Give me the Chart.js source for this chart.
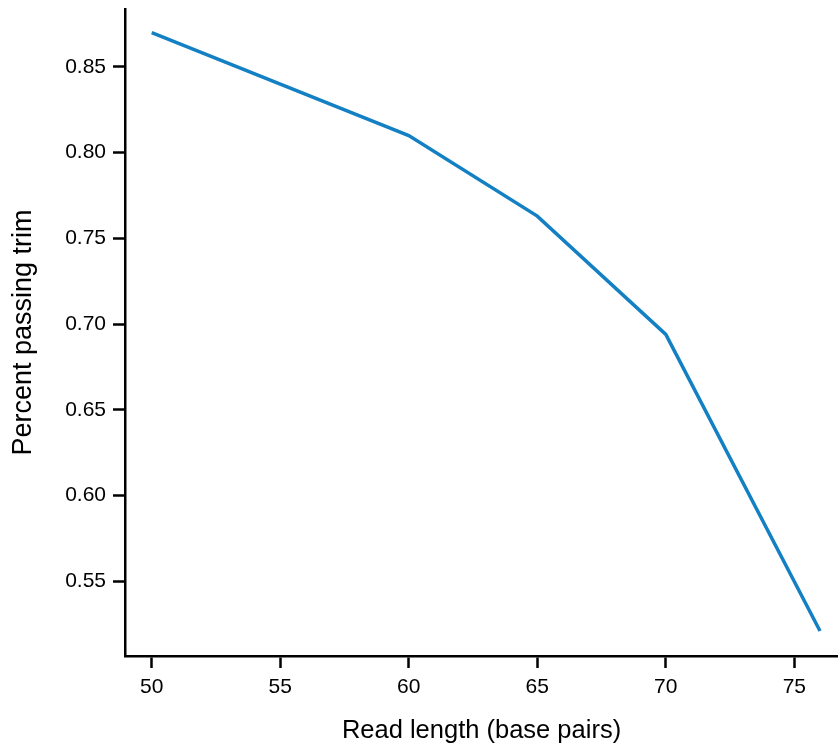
<!DOCTYPE html>
<html>
<head>
<meta charset="utf-8">
<script src="https://cdn.jsdelivr.net/npm/chart.js@4/dist/chart.umd.min.js"></script>
<style>
  html, body { margin: 0; padding: 0; background: #ffffff; }
  #wrap { width: 838px; height: 746px; position: relative; }
</style>
</head>
<body>
<div id="wrap"><canvas id="chart" width="838" height="746"></canvas></div>
<script>
// Read length (bp) vs. fraction of reads passing the trim step
const readLengths = [50, 60, 65, 70, 76];
const passingTrim = [0.870, 0.810, 0.763, 0.694, 0.521];

const xTicks = [50, 55, 60, 65, 70, 75];
const yTicks = [0.55, 0.60, 0.65, 0.70, 0.75, 0.80, 0.85];

const FONT = "'Liberation Sans', Arial, Helvetica, sans-serif";

const points = readLengths.map((x, i) => ({ x: x, y: passingTrim[i] }));

new Chart(document.getElementById('chart'), {
  type: 'line',
  data: {
    datasets: [{
      data: points,
      borderColor: '#1480c4',
      borderWidth: 3.5,
      pointRadius: 0,
      tension: 0,
      fill: false
    }]
  },
  options: {
    responsive: false,
    animation: false,
    layout: { padding: { top: 9, right: 0, bottom: 0, left: 0 } },
    plugins: { legend: { display: false }, tooltip: { enabled: false } },
    scales: {
      x: {
        type: 'linear',
        min: 48.96,
        max: 76.7,
        afterBuildTicks: s => { s.ticks = xTicks.map(v => ({ value: v })); },
        afterFit: s => { s.height = 90; s.paddingLeft = 0; s.paddingRight = 0; },
        border: { display: true, color: '#000000', width: 2.5 },
        grid: { display: true, drawOnChartArea: false, drawTicks: true, tickLength: 12, tickWidth: 2.5, tickColor: '#000000' },
        ticks: { color: '#000000', font: { family: FONT, size: 21 }, padding: 7, maxRotation: 0, callback: v => String(v) },
        title: { display: true, text: 'Read length (base pairs)', color: '#000000', font: { family: FONT, size: 25.5 }, padding: { top: 12, bottom: 0 } }
      },
      y: {
        type: 'linear',
        min: 0.5064,
        max: 0.8838,
        afterBuildTicks: s => { s.ticks = yTicks.map(v => ({ value: v })); },
        afterFit: s => { s.width = 125; s.paddingTop = 0; s.paddingBottom = 0; },
        border: { display: true, color: '#000000', width: 2.5 },
        grid: { display: true, drawOnChartArea: false, drawTicks: true, tickLength: 12, tickWidth: 2.5, tickColor: '#000000' },
        ticks: { color: '#000000', font: { family: FONT, size: 21 }, padding: 7, callback: v => Number(v).toFixed(2) },
        title: { display: true, text: 'Percent passing trim', color: '#000000', font: { family: FONT, size: 27 }, padding: { top: 7, bottom: 0 } }
      }
    }
  }
});
</script>
</body>
</html>
